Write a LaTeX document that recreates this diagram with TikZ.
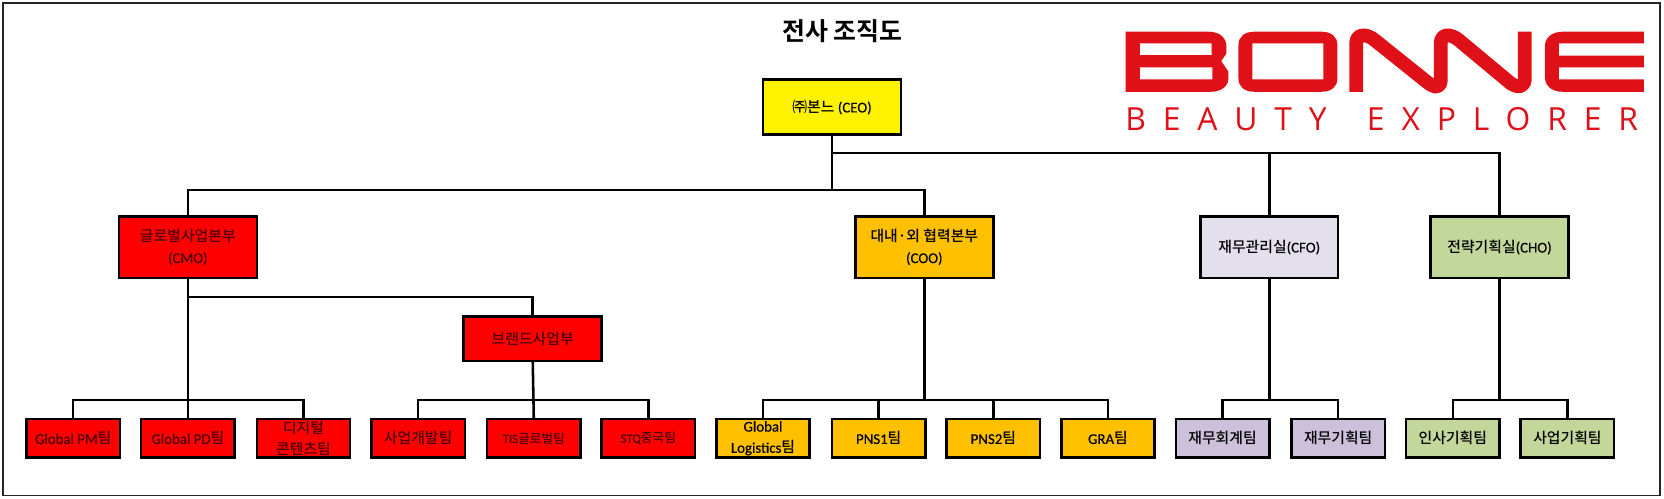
\documentclass[tikz,border=0pt]{standalone}
\usepackage{fontspec}
\setmainfont[FakeBold=0.35]{Carlito}
\newfontfamily\kr{Noto Sans CJK KR Medium}
\newfontfamily\krb{Noto Sans CJK KR Bold}
\newfontfamily\logofont[LetterSpace=53,WordSpace=1.6]{Open Sans}
\definecolor{bonnered}{HTML}{DF1018}
\definecolor{amber}{HTML}{FFC000}
\definecolor{lilac}{HTML}{E4DFEC}
\definecolor{lilacdark}{HTML}{CCC0DA}
\definecolor{sage}{HTML}{C4D79B}
\definecolor{onred}{HTML}{4A0006}
\tikzset{
  orgbox/.style={draw=black,line width=2.4pt,inner sep=0pt,outer sep=0pt,align=center,font=\fontsize{14}{20}\selectfont},
  topbox/.style={orgbox,minimum width=130pt,minimum height=58pt},
  team/.style={orgbox,minimum width=88pt,minimum height=36pt},
  link/.style={draw=black,line width=2.4pt,line join=miter},
  redf/.style={fill=red,text=onred},
  smalltext/.style={font=\fontsize{12}{20}\selectfont},
  ambf/.style={fill=amber},
  lilf/.style={fill=lilacdark},
  sagf/.style={fill=sage},
  logofill/.style={fill=bonnered,draw=none,even odd rule}
}
\newcommand{\K}[1]{{\kr #1}}
\newcommand{\rowbus}[2]{\draw[link] (#1.north) -- (#1.north |- rowy) -- (#2.north |- rowy) -- (#2.north);}
\begin{document}
\begin{tikzpicture}[x=1pt,y=-1pt]
\useasboundingbox (0,0) rectangle (1568,470);
\fill[white] (0,0) rectangle (1568,470);
\draw[line width=1.6pt,draw=black!85] (3,3) rectangle (1564,467);
\node[font=\fontsize{23.5}{26}\selectfont\krb] (title) at (794,29) {전사 조직도};

% logo (artwork traced in crop coordinates)
\begin{scope}[shift={(980.2,0)},x=0.3774pt,y=-0.3145pt]
  \path[logofill] (213,95) -- (420,95) .. controls (450,95) and (465,115) .. (465,140) -- (465,160) -- (452,183) -- (470,215) -- (470,235) .. controls (470,260) and (450,275) .. (425,275) -- (213,275) -- cycle
     (249,130) rectangle (428,165) (249,202) rectangle (430,238);
  \path[logofill] (535,95) -- (702,95) .. controls (727,95) and (742,110) .. (742,135) -- (742,235) .. controls (742,260) and (727,275) .. (702,275) -- (535,275) .. controls (510,275) and (495,260) .. (495,235) -- (495,135) .. controls (495,110) and (510,95) .. (535,95) -- cycle
     (530,130) rectangle (707,238);
  \draw[bonnered,line width=13pt,line join=round] (789,275) -- (789,130) .. controls (789,100) and (815,100) .. (835,120) -- (965,245) .. controls (985,265) and (1000,265) .. (1000,240) -- (1000,130) .. controls (1000,100) and (1025,100) .. (1045,120) -- (1175,250) .. controls (1195,265) and (1210,260) .. (1210,235) -- (1210,95);
  \path[logofill] (1507,95) -- (1305,95) .. controls (1275,95) and (1260,115) .. (1260,140) -- (1260,230) .. controls (1260,255) and (1275,275) .. (1305,275) -- (1507,275) -- (1507,238) -- (1295,238) -- (1295,202) -- (1507,202) -- (1507,167) -- (1295,167) -- (1295,130) -- (1507,130) -- cycle;
\end{scope}
\node[font=\fontsize{30}{30}\selectfont\logofont,text=bonnered,inner sep=0pt] (tagline) at (1302,112) {BEAUTY EXPLORER};

% upper boxes
\node[orgbox,fill=yellow,minimum width=130pt,minimum height=52pt] (ceo) at (784,101) {\K{㈜본느} (CEO)};
\node[topbox,redf] (cmo) at (177,233) {\K{글로벌사업본부}\\(CMO)};
\node[topbox,ambf] (coo) at (871,233) {\K{대내·외 협력본부}\\(COO)};
\node[topbox,fill=lilac] (cfo) at (1196,233) {\K{재무관리실}(CFO)};
\node[topbox,sagf] (cho) at (1413,233) {\K{전략기획실}(CHO)};
\node[orgbox,redf,minimum width=130pt,minimum height=42pt] (brand) at (502,319) {\K{브랜드사업부}};

% teams
\node[team,redf] (pm) at (69,413) {Global PM\K{팀}};
\node[team,redf] (pd) at (177,413) {Global PD\K{팀}};
\node[team,redf] (dig) at (286,413) {\K{디지털}\\\K{콘텐츠팀}};
\node[team,redf] (biz) at (394,413) {\K{사업개발팀}};
\node[team,redf,smalltext] (tis) at (503,413) {TIS\K{글로벌팀}};
\node[team,redf,smalltext] (stq) at (611,413) {STQ\K{중국팀}};
\node[team,ambf] (log) at (719,413) {Global\\Logistics\K{팀}};
\node[team,ambf] (pns1) at (828,413) {PNS1\K{팀}};
\node[team,ambf] (pns2) at (936,413) {PNS2\K{팀}};
\node[team,ambf] (gra) at (1044,413) {GRA\K{팀}};
\node[team,lilf] (acc) at (1152,413) {\K{재무회계팀}};
\node[team,lilf] (fin) at (1261,413) {\K{재무기획팀}};
\node[team,sagf] (hr) at (1369,413) {\K{인사기획팀}};
\node[team,sagf] (plan) at (1477,413) {\K{사업기획팀}};

% rails
\coordinate (upper) at (0,144);
\coordinate (lower) at (0,179);
\coordinate (mid) at (0,280);
\coordinate (rowy) at (0,377);

\draw[link] (ceo.south) -- (ceo.south |- lower);
\draw[link] (cmo.north) -- (cmo.north |- lower) -- (coo.north |- lower) -- (coo.north);
\draw[link] (ceo.south |- upper) -- (cho.north |- upper) -- (cho.north);
\draw[link] (cfo.north |- upper) -- (cfo.north);
\draw[link] (cmo.south) -- (pd.north);
\draw[link] (cmo.south |- mid) -- (brand.north |- mid) -- (brand.north);
\rowbus{pm}{dig}
\draw[link] (brand.south) -- (tis.north);
\rowbus{biz}{stq}
\draw[link] (coo.south) -- (coo.south |- rowy);
\rowbus{log}{gra}
\draw[link] (pns1.north) -- (pns1.north |- rowy);
\draw[link] (pns2.north) -- (pns2.north |- rowy);
\draw[link] (cfo.south) -- (cfo.south |- rowy);
\rowbus{acc}{fin}
\draw[link] (cho.south) -- (cho.south |- rowy);
\rowbus{hr}{plan}
\end{tikzpicture}
\end{document}
